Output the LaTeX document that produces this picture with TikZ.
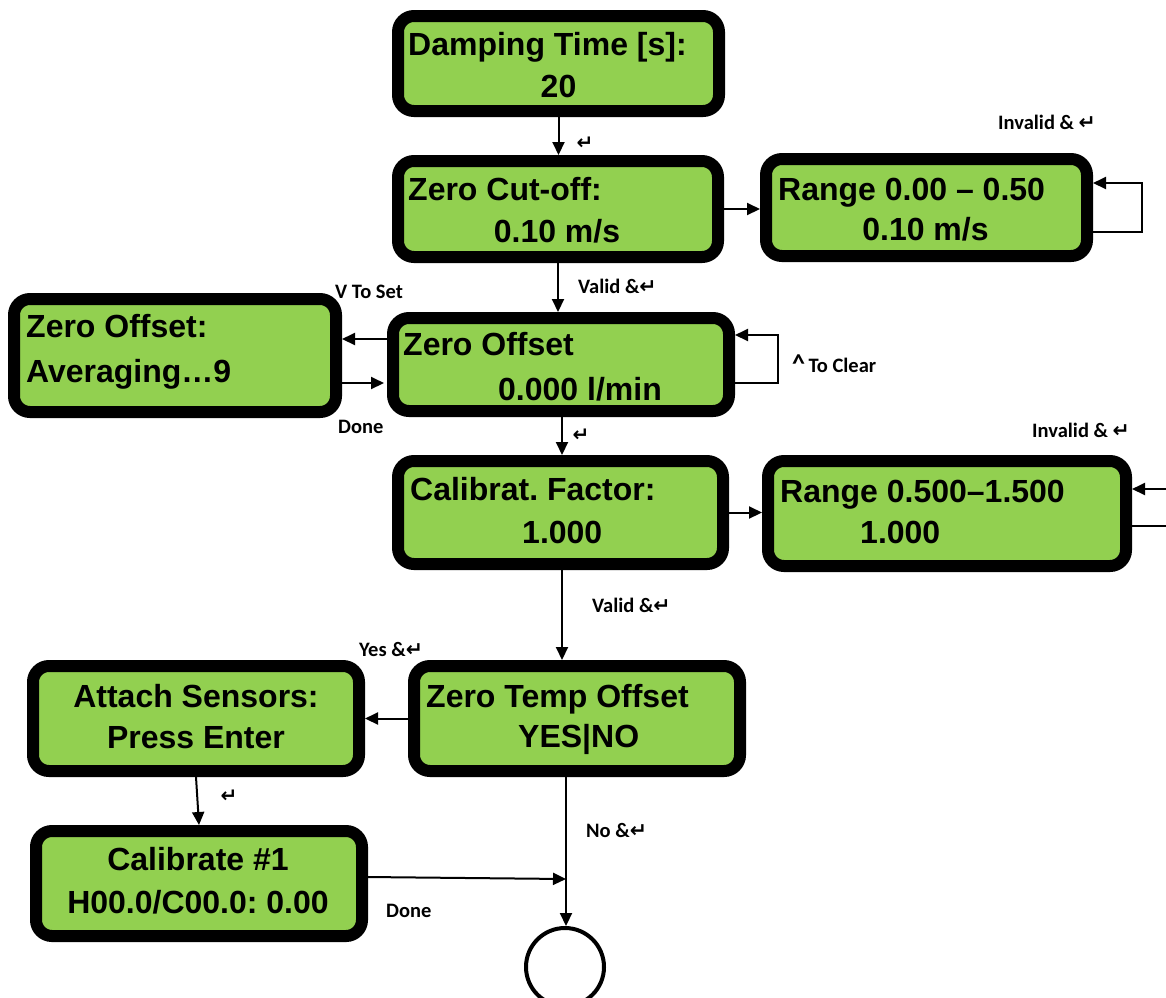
\documentclass[tikz,border=0pt]{standalone}
\usepackage{fontspec}
\usetikzlibrary{arrows.meta,calc}
\newfontfamily\boxfam{Liberation Sans}
\newfontfamily\lblfam{Carlito}
\newfontfamily\symfam{DejaVu Sans}
\definecolor{lcdgreen}{HTML}{92D050}
\newcommand\retsym{{\symfam\bfseries ↵}}
\frenchspacing
\begin{document}
\begin{tikzpicture}[x=1pt,y=-1pt,
  lcd/.style={rectangle, draw=black, line width=12pt, fill=lcdgreen, rounded corners=16pt, inner sep=0pt},
  btxt/.style={font=\boxfam\bfseries\fontsize{32}{38}\selectfont, inner sep=0pt, anchor=base west},
  ctxt/.style={btxt, anchor=base},
  lbl/.style={font=\lblfam\bfseries\fontsize{20.5}{24}\selectfont, inner sep=0pt, anchor=base west},
  rsym/.style={font=\symfam\bfseries\fontsize{20}{24}\selectfont, inner sep=0pt, anchor=center},
  conn/.style={line width=2pt},
  arr/.style={conn, -{Triangle[length=13pt,width=12pt]}}]
\useasboundingbox (0,0) rectangle (1166,997);

% boxes
\node[lcd, minimum width=321pt, minimum height=95pt]  (b1)  at (558.5,63.5) {};
\node[lcd, minimum width=320pt, minimum height=96pt]  (b2)  at (558,209) {};
\node[lcd, minimum width=321pt, minimum height=97pt]  (b3)  at (926.5,207.5) {};
\node[lcd, minimum width=336pt, minimum height=93pt]  (b4)  at (561,364.5) {};
\node[lcd, minimum width=322pt, minimum height=113pt] (b5)  at (175,355.5) {};
\node[lcd, minimum width=325pt, minimum height=103pt] (b6)  at (560.5,512.5) {};
\node[lcd, minimum width=358pt, minimum height=105pt] (b7)  at (947,513.5) {};
\node[lcd, minimum width=326pt, minimum height=105pt] (b8)  at (577,718.5) {};
\node[lcd, minimum width=326pt, minimum height=105pt] (b9)  at (196,718.5) {};
\node[lcd, minimum width=326pt, minimum height=105pt] (b10) at (199,883.5) {};
\node[circle, draw=black, line width=4pt, fill=white, minimum size=78pt, inner sep=0pt] (circ) at (565,967) {};

% box texts
\node[btxt] (t1a) at (408,55) {Damping Time [s]:};
\node[ctxt] (t1b) at (558.5,97) {20};
\node[btxt] (t2a) at (408,200) {Zero Cut-off:};
\node[ctxt] (t2b) at (557,242) {0.10 m/s};
\node[btxt] (t3a) at (778,200) {Range 0.00 – 0.50};
\node[ctxt] (t3b) at (925.5,240) {0.10 m/s};
\node[btxt] (t4a) at (403,355) {Zero Offset};
\node[btxt] (t4b) at (498,400) {0.000 l/min};
\node[btxt] (t5a) at (26,337) {Zero Offset:};
\node[btxt] (t5b) at (26,382) {Averaging…9};
\node[btxt] (t6a) at (410,500) {Calibrat. Factor:};
\node[btxt] (t6b) at (522,543) {1.000};
\node[btxt] (t7a) at (780,502) {Range 0.500–1.500};
\node[btxt] (t7b) at (860,543) {1.000};
\node[btxt] (t8a) at (426,707) {Zero Temp Offset};
\node[btxt] (t8b) at (518,747) {YES|NO};
\node[ctxt] (t9a) at (196,707) {Attach Sensors:};
\node[ctxt] (t9b) at (196,748) {Press Enter};
\node[ctxt] (t10a) at (198,870) {Calibrate \#1};
\node[ctxt] (t10b) at (198,913) {H00.0/C00.0: 0.00};

% helper coordinates
\coordinate (z1) at ($(b4.west)+(0,-25.5)$);
\coordinate (z2) at ($(b5.east)+(0,27.5)$);
\coordinate (r2in) at (1166,489);
\coordinate (r2out) at (1166,526);
\coordinate (join) at (566,879);
\coordinate (c10) at ($(b10.east)+(0,-6.5)$);

% connectors
\draw[arr] (b1.south) -- (b1.south |- b2.north);
\draw[arr] (b2.east) -- (b2.east -| b3.west);
\draw[arr] ($(b3.east)+(0,24.5)$) -- ++(49,0) |- ($(b3.east)+(0,-24.5)$);
\draw[arr] (b2.south) -- (b2.south |- b4.north);
\draw[arr] (z1) -- (z1 -| b5.east);
\draw[arr, shorten >=3pt] (z2) -- (z2 -| b4.west);
\draw[arr] ($(b4.east)+(0,18.5)$) -- ++(43,0) |- ($(b4.east)+(0,-29.5)$);
\draw[arr] ($(b4.south)+(1,0)$) -- ($(b4.south |- b6.north)+(1,0)$);
\draw[arr] (b6.east) -- (b6.east -| b7.west);
\draw[arr] (r2in) -- (r2in -| b7.east);
\draw[conn] (r2out -| b7.east) -- (r2out);
\draw[arr] ($(b6.south)+(1.5,0)$) -- ($(b6.south |- b8.north)+(1.5,0)$);
\draw[arr] (b8.west) -- (b9.east);
\draw[arr] (b9.south) -- (b10.north);
\draw[arr] (b8.south -| join) -- (join |- circ.north);
\draw[arr] (c10) -- (join);

% labels
\node[lbl] (l1) at (998,129) {Invalid \& \retsym};
\node[rsym] (l2) at (585,143) {↵};
\node[lbl] (l3) at (578,293) {Valid \&\retsym};
\node[lbl] (l4) at (335,298) {V To Set};
\node[lbl] (l5) at (338,433) {Done};
\node[lbl] (l6) at (792,372) {{\fontsize{26}{26}\selectfont\textasciicircum}\,To Clear};
\node[rsym] (l7) at (581,435) {↵};
\node[lbl] (l8) at (1032,437) {Invalid \& \retsym};
\node[lbl] (l9) at (592,612) {Valid \&\retsym};
\node[lbl] (l10) at (359,656) {Yes \&\retsym};
\node[rsym] (l11) at (229,796) {↵};
\node[lbl] (l12) at (586,837) {No \&\retsym};
\node[lbl] (l13) at (386,917) {Done};
\end{tikzpicture}
\end{document}
